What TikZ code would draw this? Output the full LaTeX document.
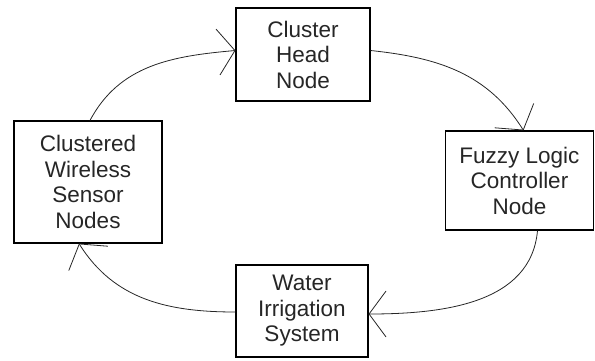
\documentclass[tikz,border=0pt]{standalone}
\usepackage{fontspec}
\setmainfont{Liberation Sans}
\usetikzlibrary{arrows.meta}

\begin{document}
\begin{tikzpicture}[x=1pt, y=1pt,
    stage/.style={draw=black, line width=1.1pt, align=center, inner sep=0pt,
        text=black!85, font=\fontsize{22.5}{25.5}\selectfont},
    flow/.style={draw=black!85, line width=0.8pt,
        -{Straight Barb[length=17pt, width=46pt]}}]
    \useasboundingbox (0, 0) rectangle (595, 360);

    \node[stage, minimum width=134pt, minimum height=93pt] (head) at (303, 305.5) {Cluster\\Head\\Node};
    \node[stage, minimum width=148pt, minimum height=122pt] (sensor) at (88, 178) {Clustered\\Wireless\\Sensor\\Nodes};
    \node[stage, minimum width=148pt, minimum height=99pt] (fuzzy) at (519.5, 179.5) {Fuzzy Logic\\Controller\\Node};
    \node[stage, minimum width=132pt, minimum height=92pt] (water) at (302, 49) {Water\\Irrigation\\System};

    \draw[flow] ([xshift=2pt]sensor.north) to[out=62, in=185] ([yshift=4pt]head.west); % up
    \draw[flow] ([yshift=4pt]head.east) to[out=-6, in=122] ([xshift=4pt]fuzzy.north); % right
    \draw[flow] ([xshift=18pt]fuzzy.south) to[out=-95, in=0] ([yshift=-3pt]water.east); % down
    \draw[flow] ([yshift=-1pt]water.west) to[out=180, in=-58] ([xshift=-9pt]sensor.south); % left

\end{tikzpicture}
\end{document}
